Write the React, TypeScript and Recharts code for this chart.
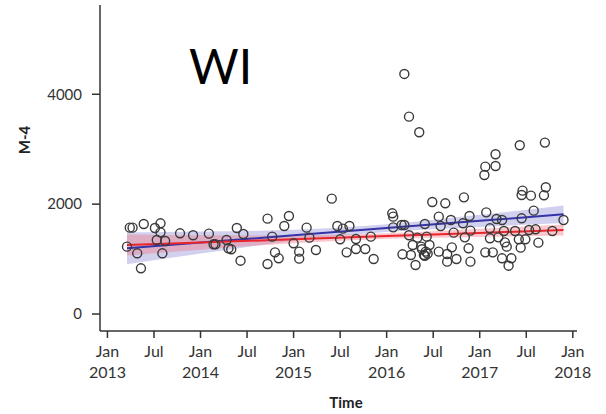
import React from 'react';
import { ComposedChart, Scatter, Line, Area, XAxis, YAxis } from 'recharts';

// sample dates (decimal years) and M-4 values
const pointYears = [
  2013.21, 2013.24, 2013.27, 2013.32, 2013.36, 2013.39, 2013.51, 2013.53, 2013.57, 2013.57,
  2013.59, 2013.62, 2013.78, 2013.92, 2014.09, 2014.14, 2014.16, 2014.28, 2014.3, 2014.33,
  2014.39, 2014.46, 2014.43, 2014.72, 2014.72, 2014.77, 2014.8, 2014.84, 2014.9, 2014.95,
  2015.0, 2015.06, 2015.06, 2015.14, 2015.17, 2015.24, 2015.41, 2015.47, 2015.5, 2015.53,
  2015.57, 2015.6, 2015.67, 2015.67, 2015.77, 2015.83, 2015.86, 2016.06, 2016.07, 2016.07,
  2016.16, 2016.19, 2016.19, 2016.17, 2016.24, 2016.24, 2016.26, 2016.28, 2016.31, 2016.35,
  2016.33, 2016.37, 2016.4, 2016.41, 2016.42, 2016.43, 2016.46, 2016.49, 2016.56, 2016.58,
  2016.56, 2016.63, 2016.65, 2016.65, 2016.69, 2016.7, 2016.72, 2016.75, 2016.82, 2016.83,
  2016.84, 2016.88, 2016.89, 2016.9, 2016.9, 2017.05, 2017.06, 2017.06, 2017.07, 2017.11,
  2017.11, 2017.14, 2017.17, 2017.17, 2017.18, 2017.2, 2017.24, 2017.24, 2017.26, 2017.27,
  2017.29, 2017.31, 2017.34, 2017.38, 2017.42, 2017.43, 2017.44, 2017.45, 2017.45, 2017.46,
  2017.49, 2017.53, 2017.55, 2017.58, 2017.6, 2017.63, 2017.7, 2017.71, 2017.69, 2017.78,
  2017.9, 2016.38, 2016.44, 2016.41,
];
const pointValues = [
  1226, 1572, 1572, 1105, 832, 1639, 1566, 1348, 1651, 1487,
  1105, 1329, 1469, 1433, 1463, 1269, 1269, 1348, 1196, 1178,
  1566, 1457, 971, 1736, 910, 1408, 1123, 1014, 1602, 1785,
  1287, 1135, 1008, 1572, 1390, 1165, 2100, 1602, 1360, 1554,
  1123, 1602, 1366, 1184, 1184, 1408, 1002, 1833, 1772, 1578,
  1621, 1621, 4370, 1087, 3593, 1433, 1074, 1256, 892, 3308,
  1390, 1226, 1074, 1639, 1135, 1408, 1256, 2040, 1772, 1602,
  1135, 2015, 953, 1093, 1712, 1214, 1481, 1002, 1651, 2124,
  1396, 1196, 1785, 1518, 953, 2531, 2683, 1123, 1851, 1560,
  1378, 1123, 2908, 2695, 1730, 1396, 1014, 1712, 1511, 1305,
  1226, 880, 1014, 1511, 1360, 3072, 1208, 1742, 2167, 2246,
  1360, 1530, 2155, 1882, 1542, 1299, 3120, 2307, 2161, 1511,
  1712, 1180, 1100, 1060,
];

// fitted trends and their confidence bands, read at a few dates
const fitYears = [2013.21, 2014, 2015, 2016, 2017, 2017.9];
const blueFit = [1196, 1300, 1432, 1564, 1696, 1815];
const blueLow = [906, 1100, 1332, 1494, 1586, 1655];
const blueHigh = [1486, 1500, 1532, 1634, 1806, 1975];
const redFit = [1256, 1302, 1360, 1419, 1477, 1530];
const redLow = [1066, 1172, 1290, 1369, 1402, 1430];
const redHigh = [1446, 1432, 1430, 1469, 1552, 1630];

const xTicks = [2013, 2013.5, 2014, 2014.5, 2015, 2015.5, 2016, 2016.5, 2017, 2017.5, 2018];
const yTicks = [0, 2000, 4000];

const FONT = "Lato, 'Open Sans', sans-serif";

const points = pointYears.map((x, i) => ({ x, y: pointValues[i] }));
const fitRows = fitYears.map((x, i) => ({
  x,
  blue: blueFit[i],
  red: redFit[i],
  blueBand: [blueLow[i], blueHigh[i]],
  redBand: [redLow[i], redHigh[i]],
}));

const TimeTick = (props: any) => {
  const { x, y, payload } = props;
  const v = payload.value as number;
  const isJan = Number.isInteger(v);
  return (
    <g transform={`translate(${x},${y})`}>
      <text textAnchor="middle" fill="#333" fontSize={16} fontFamily={FONT}>
        <tspan x={0} dy={17}>{isJan ? 'Jan' : 'Jul'}</tspan>
        {isJan && <tspan x={0} dy={21}>{String(v)}</tspan>}
      </text>
    </g>
  );
};

const Ring = (props: any) => (
  <circle cx={props.cx} cy={props.cy} r={4.5} fill="none" stroke="#3a3a3a" strokeWidth={1.4} />
);

export default function App() {
  return (
    <div style={{ position: 'absolute', left: 0, top: 0, width: 606, height: 414, background: '#fff' }}>
      <ComposedChart width={606} height={414} margin={{ top: 5, right: 29, bottom: 33, left: 0 }}>
        <XAxis
          type="number"
          dataKey="x"
          domain={[2012.92, 2018.045]}
          allowDataOverflow
          ticks={xTicks}
          interval={0}
          height={50}
          tick={<TimeTick />}
          tickSize={7}
          tickMargin={2}
          stroke="#333"
          strokeWidth={1.5}
        />
        <YAxis
          type="number"
          domain={[-309, 5625]}
          allowDataOverflow
          ticks={yTicks}
          width={100}
          tickSize={8}
          tickMargin={10}
          tick={{ fill: '#333', fontSize: 15, fontFamily: FONT }}
          stroke="#333"
          strokeWidth={1.5}
        />
        <Area data={fitRows} dataKey="blueBand" type="monotone" stroke="none" fill="#8c8cd8" fillOpacity={0.4} isAnimationActive={false} />
        <Area data={fitRows} dataKey="redBand" type="monotone" stroke="none" fill="#f07a86" fillOpacity={0.42} isAnimationActive={false} />
        <Line data={fitRows} dataKey="blue" type="linear" stroke="#3434a8" strokeWidth={2} dot={false} isAnimationActive={false} />
        <Line data={fitRows} dataKey="red" type="linear" stroke="#e8262c" strokeWidth={2} dot={false} isAnimationActive={false} />
        <Scatter data={points} dataKey="y" shape={<Ring />} isAnimationActive={false} />
      </ComposedChart>
      <svg width={606} height={414} style={{ position: 'absolute', left: 0, top: 0, pointerEvents: 'none' }}>
        <text x={189} y={84} fontSize={48} fontFamily={FONT} fill="#000">WI</text>
        <text x={0} y={0} transform="translate(30,140) rotate(-90)" textAnchor="middle" fontSize={15} fontWeight="bold" fontFamily={FONT} fill="#222">M-4</text>
        <text x={346} y={408} textAnchor="middle" fontSize={15} fontWeight="bold" fontFamily={FONT} fill="#222">Time</text>
      </svg>
    </div>
  );
}
